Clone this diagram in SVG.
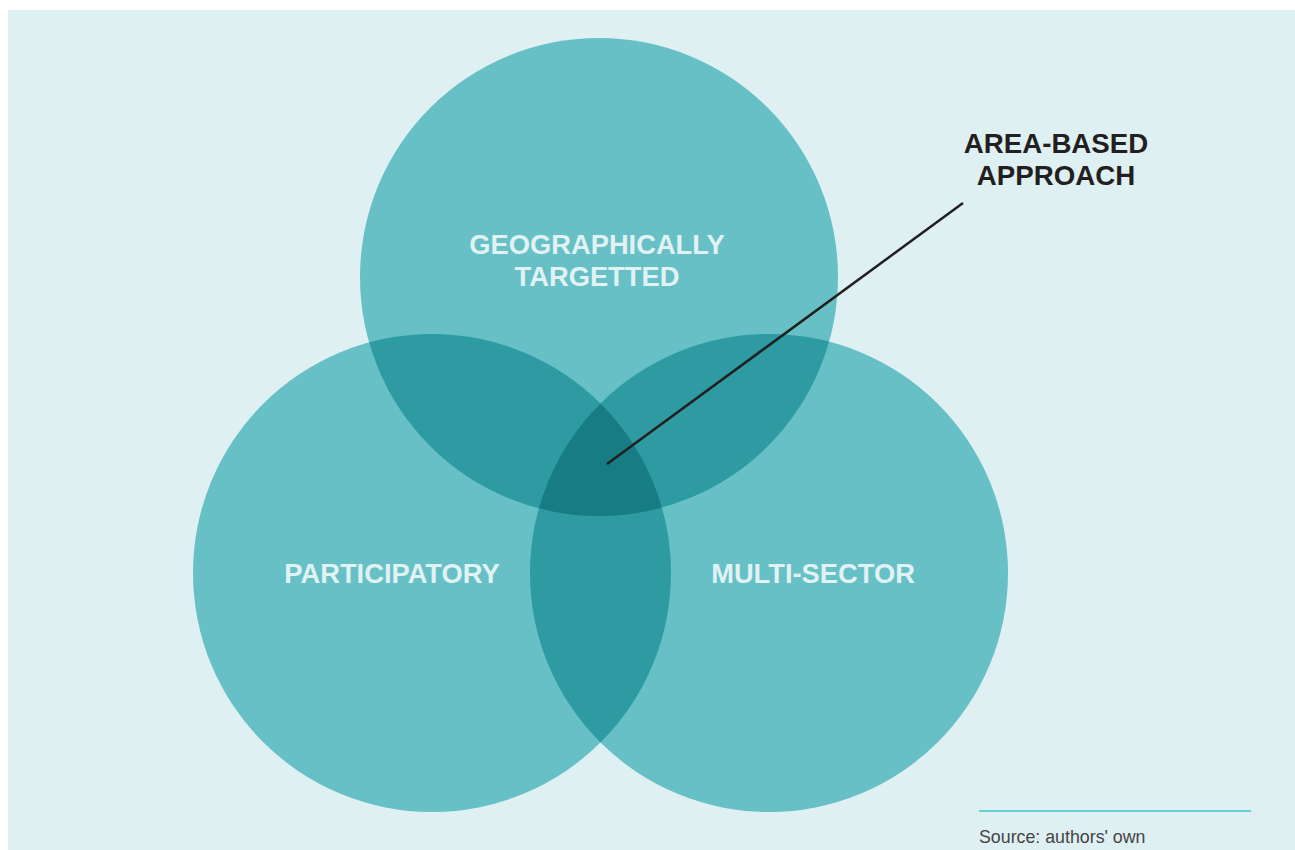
<svg xmlns="http://www.w3.org/2000/svg" width="1295" height="850" viewBox="0 0 1295 850">
<style>
.c{fill:#66c0c5}
.p{fill:#2e9ba3}
.t{fill:#187c84}
.lbl{font-family:"Liberation Sans",Arial,sans-serif;font-weight:bold;font-size:27.3px;fill:#e1f2f4;text-anchor:middle}
.ttl{font-family:"Liberation Sans",Arial,sans-serif;font-weight:bold;font-size:27.7px;fill:#231f20;text-anchor:middle}
.src{font-family:"Liberation Sans",Arial,sans-serif;font-size:17.8px;fill:#444}
</style>
<defs>
<clipPath id="cT"><circle cx="599" cy="277" r="239"/></clipPath>
<clipPath id="cL"><circle cx="432" cy="573" r="239"/></clipPath>
<clipPath id="cR"><circle cx="769" cy="573" r="239"/></clipPath>
</defs>
<rect x="0" y="0" width="1295" height="850" fill="#ffffff"/>
<rect x="8" y="10" width="1287" height="840" fill="#dff0f3"/>
<g id="geographically">
<circle class="c" cx="599" cy="277" r="239"/>
</g>
<g id="participatory">
<circle class="c" cx="432" cy="573" r="239"/>
</g>
<g id="multisector">
<circle class="c" cx="769" cy="573" r="239"/>
</g>
<g id="overlaps">
<circle class="p" cx="599" cy="277" r="239" clip-path="url(#cL)"/>
<circle class="p" cx="599" cy="277" r="239" clip-path="url(#cR)"/>
<circle class="p" cx="432" cy="573" r="239" clip-path="url(#cR)"/>
<g clip-path="url(#cR)"><circle class="t" cx="599" cy="277" r="239" clip-path="url(#cL)"/></g>
</g>
<g id="labels">
<text class="lbl" x="597" y="254">GEOGRAPHICALLY</text>
<text class="lbl" x="597" y="286">TARGETTED</text>
<text class="lbl" x="392" y="583">PARTICIPATORY</text>
<text class="lbl" x="813" y="583">MULTI-SECTOR</text>
</g>
<g id="connectors">
<line x1="607" y1="464" x2="963" y2="203" stroke="#231f20" stroke-width="2.5"/>
</g>
<g id="area-based">
<text class="ttl" x="1056" y="153">AREA-BASED</text>
<text class="ttl" x="1056" y="185">APPROACH</text>
</g>
<g id="source">
<line x1="979" y1="811" x2="1251" y2="811" stroke="#3cc5cc" stroke-width="1.5"/>
<text class="src" x="979" y="843">Source: authors' own</text>
</g>
</svg>
